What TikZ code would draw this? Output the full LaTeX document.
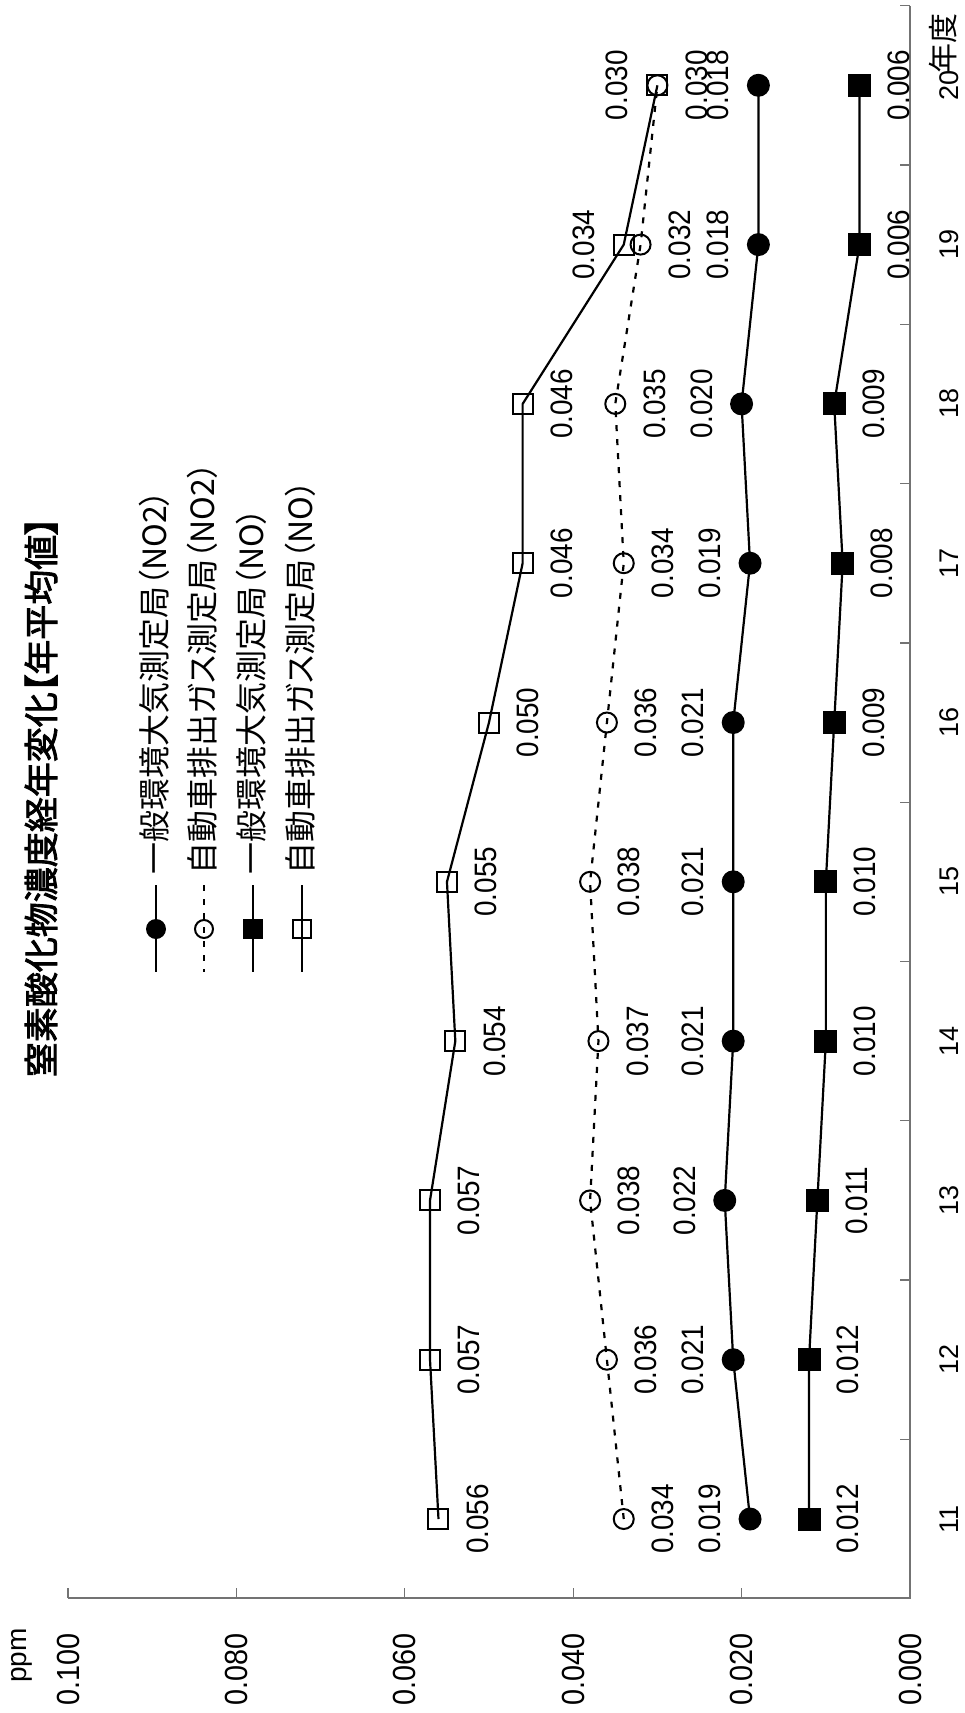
\documentclass[tikz,border=0pt]{standalone}
\usepackage{fontspec}
\setmainfont{Liberation Sans}
\newfontfamily\numfont{Liberation Sans}[FakeStretch=0.9]
\newfontfamily\jpfont{Noto Sans CJK JP}[RawFeature=+palt]
\newfontfamily\jptitle{Noto Sans CJK JP}[RawFeature=+palt,FakeBold=2.5]
\usetikzlibrary{backgrounds}

\begin{document}
\begin{tikzpicture}[x=1pt,y=-1pt]
\tikzstyle{fdot}=[circle,fill=black,minimum size=23pt,inner sep=0]
\tikzstyle{odot}=[circle,draw=black,line width=2pt,minimum size=20pt,inner sep=0]
\tikzstyle{fbox}=[rectangle,fill=black,minimum size=23pt,inner sep=0]
\tikzstyle{obox}=[rectangle,draw=black,line width=2pt,minimum size=20pt,inner sep=0]
\tikzstyle{datum}=[rotate=90,inner sep=0,font=\numfont\fontsize{31}{31}\selectfont]
\tikzstyle{axis}=[draw=black!55,line width=1.3pt]
\tikzstyle{series}=[line width=2.2pt]
\tikzstyle{roadno2}=[series,dash pattern=on 6pt off 8pt]
\useasboundingbox (0,0) rectangle (965,1713);
% axes
\draw[axis] (910,6) -- (910,1598) -- (68,1598);
\foreach \k in {0,...,5}
  \draw[axis] ({910-168.4*\k},1598) -- ({910-168.4*\k},1588);
\foreach \j in {0,...,10}
  \draw[axis] (910,{1598.7-159.3*\j}) -- (900,{1598.7-159.3*\j});
\foreach \t [count=\k from 0] in {0.000,0.020,0.040,0.060,0.080,0.100}
  \node[rotate=90,anchor=east,inner sep=0,font=\numfont\fontsize{32}{32}\selectfont] (v\k) at ({910-168.4*\k},1633) {\t};
\node[rotate=90,anchor=base east,inner sep=0,font=\fontsize{28}{28}\selectfont] (ppm) at (27,1628) {ppm};
\foreach \yr [count=\i] in {11,...,20}
  \node[rotate=90,inner sep=0,font=\fontsize{27}{27}\selectfont] (y\i) at (949,{1519-159.3*(\i-1)}) {\yr};
\node[rotate=90,anchor=east,inner sep=0,font=\jpfont\fontsize{30}{30}\selectfont] (unit) at (943,13) {年度};
% title
\node[rotate=90,anchor=east,inner sep=0,font=\jptitle\fontsize{35}{35}\selectfont] (title) at (41,517) {窒素酸化物濃度経年変化【年平均値】};
% data
\foreach \v [count=\i] in {0.019,0.021,0.022,0.021,0.021,0.021,0.019,0.020,0.018,0.018} {
  \node[fdot] (a\i) at ({910-8420*\v},{1519-159.3*(\i-1)}) {};
  \node[datum,anchor=south] (al\i) at ([xshift=-29pt]a\i.center) {\v};
}
\foreach \v [count=\i] in {0.034,0.036,0.038,0.037,0.038,0.036,0.034,0.035,0.032,0.030} {
  \node[odot] (b\i) at ({910-8420*\v},{1519-159.3*(\i-1)}) {};
  \node[datum,anchor=north] (bl\i) at ([xshift=28pt]b\i.center) {\v};
}
\foreach \v [count=\i] in {0.012,0.012,0.011,0.010,0.010,0.009,0.008,0.009,0.006,0.006} {
  \node[fbox] (c\i) at ({910-8420*\v},{1519-159.3*(\i-1)}) {};
  \node[datum,anchor=north] (cl\i) at ([xshift=28pt]c\i.center) {\v};
}
\foreach \v/\a/\d [count=\i] in {0.056/north/28,0.057/north/28,0.057/north/28,0.054/north/28,0.055/north/28,
    0.050/north/28,0.046/north/28,0.046/north/28,0.034/south/-29,0.030/south/-29} {
  \node[obox] (d\i) at ({910-8420*\v},{1519-159.3*(\i-1)}) {};
  \node[datum,anchor=\a] (dl\i) at ([xshift=\d pt]d\i.center) {\v};
}
% legend
\node[fdot,minimum size=20pt] (m1) at (156,929) {};
\node[odot,minimum size=18pt] (m2) at (204,929) {};
\node[fbox,minimum size=20pt] (m3) at (253,929) {};
\node[obox,minimum size=18pt] (m4) at (302,929) {};
\foreach \n/\x in {1/156,2/204,3/253,4/302} {
  \coordinate (s\n) at (\x,885);
  \coordinate (e\n) at (\x,972);
}
\tikzstyle{entry}=[rotate=90,anchor=west,inner sep=0,font=\jpfont\fontsize{32}{32}\selectfont]
\node[entry] (t1) at (154.5,875) {一般環境大気測定局（NO2）};
\node[entry] (t2) at (202.5,875) {自動車排出ガス測定局（NO2）};
\node[entry] (t3) at (251.5,875) {一般環境大気測定局（NO）};
\node[entry] (t4) at (300.5,875) {自動車排出ガス測定局（NO）};
\begin{pgfonlayer}{background}
\draw[series] (a1.center) \foreach \i in {2,...,10} {-- (a\i.center)};
\draw[roadno2] (b1.center) \foreach \i in {2,...,10} {-- (b\i.center)};
\draw[series] (c1.center) \foreach \i in {2,...,10} {-- (c\i.center)};
\draw[series] (d1.center) \foreach \i in {2,...,10} {-- (d\i.center)};
\draw[series,line width=2pt] (s1) -- (m1) -- (e1);
\draw[roadno2,line width=2pt] (s2) -- (m2.center) -- (e2);
\draw[series,line width=2pt] (s3) -- (m3) -- (e3);
\draw[series,line width=2pt] (s4) -- (m4.center) -- (e4);
\end{pgfonlayer}
\end{tikzpicture}
\end{document}
